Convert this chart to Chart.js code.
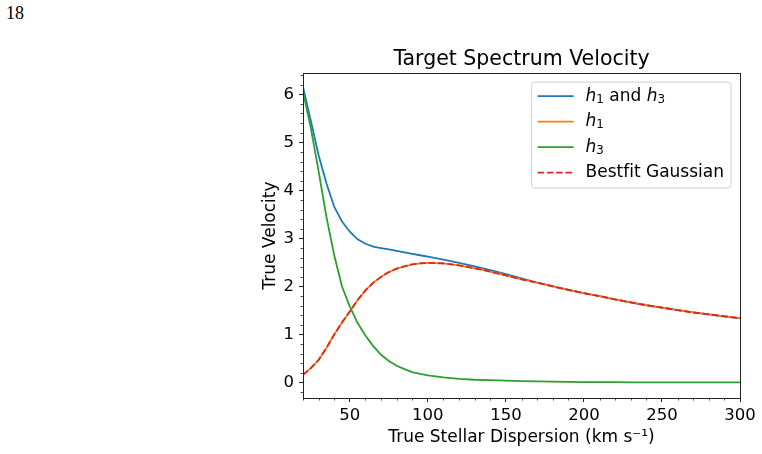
<!DOCTYPE html>
<html>
<head>
<meta charset="utf-8">
<script src="https://cdn.jsdelivr.net/npm/chart.js@4.4.0/dist/chart.umd.min.js"></script>
<style>
  html, body { margin: 0; padding: 0; background: #fff; }
  #wrap { position: relative; width: 762px; height: 454px; }
  #page { position: absolute; left: 6px; top: 3px; font-family: "Liberation Serif", serif; font-size: 18px; color: #000; }
  canvas { position: absolute; left: 0; top: 0; }
</style>
</head>
<body>
<div id="wrap">
  <div id="page">18</div>
  <canvas id="myChart" width="762" height="454"></canvas>
</div>
<script>
// data
const sigma = [20, 25, 30, 35, 40, 45, 50, 55, 60, 65, 70, 75, 80, 85, 90, 95, 100,
  110, 120, 130, 140, 150, 160, 170, 180, 190, 200, 210, 220, 230, 240, 250, 260, 270, 280, 290, 300];
const h1h3 = [6.15, 5.45, 4.73, 4.15, 3.66, 3.35, 3.14, 2.98, 2.89, 2.83, 2.8, 2.77, 2.74, 2.71, 2.68, 2.65, 2.62,
  2.56, 2.49, 2.42, 2.34, 2.26, 2.17, 2.08, 2.01, 1.93, 1.86, 1.8, 1.73, 1.67, 1.61, 1.56, 1.51, 1.46, 1.42, 1.38, 1.34];
const h1 = [0.16, 0.3, 0.47, 0.72, 1.0, 1.25, 1.48, 1.72, 1.92, 2.08, 2.2, 2.3, 2.37, 2.42, 2.46, 2.48, 2.49,
  2.48, 2.44, 2.38, 2.31, 2.23, 2.15, 2.08, 2.0, 1.93, 1.86, 1.8, 1.73, 1.67, 1.61, 1.56, 1.51, 1.46, 1.42, 1.38, 1.34];
const h3 = [6.05, 5.3, 4.4, 3.45, 2.65, 2.0, 1.58, 1.24, 0.98, 0.76, 0.58, 0.45, 0.35, 0.28, 0.22, 0.18, 0.15,
  0.11, 0.08, 0.06, 0.05, 0.04, 0.03, 0.025, 0.02, 0.015, 0.01, 0.01, 0.01, 0.005, 0.005, 0.005, 0.005, 0.005, 0.005, 0.005, 0.005];
const gaussFit = [0.16, 0.3, 0.47, 0.72, 1.0, 1.25, 1.48, 1.72, 1.92, 2.08, 2.2, 2.3, 2.37, 2.42, 2.46, 2.48, 2.49,
  2.48, 2.44, 2.38, 2.31, 2.23, 2.15, 2.08, 2.0, 1.93, 1.86, 1.8, 1.73, 1.67, 1.61, 1.56, 1.51, 1.46, 1.42, 1.38, 1.34];
const xTicks = [50, 100, 150, 200, 250, 300];
const yTicks = [0, 1, 2, 3, 4, 5, 6];

const FONT = "DejaVu Sans";
const LEG_SIZE = 17;
Chart.defaults.font.family = FONT;
Chart.defaults.color = "#000";

const pts = (ys) => sigma.map((x, i) => ({ x: x, y: ys[i] }));

// legend text: italic h, small lowered subscripts
const SUBS = { "₀": "0", "₁": "1", "₂": "2", "₃": "3" };
function richRun(ctx, text, x, y, draw) {
  let cx = x;
  for (const ch of text) {
    let t = ch, font = LEG_SIZE + "px " + FONT, dy = 0;
    if (ch === "ℎ") { t = "h"; font = "oblique " + LEG_SIZE + "px " + FONT; }
    else if (SUBS[ch]) { t = SUBS[ch]; font = (LEG_SIZE * 0.7) + "px " + FONT; dy = 3.5; }
    ctx.font = font;
    if (draw) ctx.fillText(t, cx, y + dy);
    cx += ctx.measureText(t).width;
  }
  return cx - x;
}

// frame, minor ticks and the boxed legend
const extras = {
  id: "extras",
  afterLayout(chart) {
    // centre the title over the plot area, like the original
    const t = chart.titleBlock;
    if (t) { t.left = chart.chartArea.left; t.right = chart.chartArea.right; }
  },
  afterDraw(chart) {
    const { ctx, chartArea: a, scales } = chart;
    ctx.save();
    ctx.strokeStyle = "#222";
    ctx.lineWidth = 0.8;
    ctx.beginPath();
    for (let v = 20; v <= 300; v += 10) {
      if (v % 50 === 0) continue;
      const px = Math.round(scales.x.getPixelForValue(v)) + 0.5;
      ctx.moveTo(px, a.bottom);
      ctx.lineTo(px, a.bottom + 2.5);
    }
    for (let k = -1; k <= 32; k++) {
      if (k % 5 === 0) continue;
      const py = Math.round(scales.y.getPixelForValue(k * 0.2)) + 0.5;
      ctx.moveTo(a.left, py);
      ctx.lineTo(a.left - 2.5, py);
    }
    ctx.stroke();
    ctx.lineWidth = 1;
    ctx.strokeRect(Math.round(a.left) + 0.5, Math.round(a.top) + 0.5,
      Math.round(a.right - a.left), Math.round(a.bottom - a.top));
    ctx.restore();
  },
  afterDatasetsDraw(chart) {
    const { ctx, chartArea: a } = chart;
    const sets = chart.data.datasets;
    ctx.save();
    let textW = 0;
    sets.forEach((ds) => { textW = Math.max(textW, richRun(ctx, ds.label, 0, 0, false)); });
    const rowH = 25.5;
    const w = 6 + 36 + 12 + textW + 7;
    const h = 14 + (sets.length - 1) * rowH + 15.5;
    const x = a.right - 9 - w;
    const y = a.top + 9;
    ctx.beginPath();
    ctx.roundRect(x, y, w, h, 3);
    ctx.fillStyle = "rgba(255,255,255,0.8)";
    ctx.fill();
    ctx.strokeStyle = "#d0d0d0";
    ctx.lineWidth = 1;
    ctx.stroke();
    sets.forEach((ds, i) => {
      const cy = y + 14 + i * rowH;
      ctx.beginPath();
      ctx.setLineDash(ds.borderDash || []);
      ctx.strokeStyle = ds.borderColor;
      ctx.lineWidth = ds.borderWidth;
      ctx.moveTo(x + 6, cy);
      ctx.lineTo(x + 42, cy);
      ctx.stroke();
      ctx.setLineDash([]);
      ctx.fillStyle = "#000";
      ctx.textBaseline = "middle";
      richRun(ctx, ds.label, x + 54, cy, true);
    });
    ctx.restore();
  },
};

const ctx = document.getElementById("myChart").getContext("2d");
const myChart = new Chart(ctx, {
  type: "line",
  data: {
    datasets: [
      { label: "ℎ₁ and ℎ₃", data: pts(h1h3), borderColor: "#1f77b4", borderWidth: 1.8, order: 4 },
      { label: "ℎ₁", data: pts(h1), borderColor: "#ff7f0e", borderWidth: 1.8, order: 3 },
      { label: "ℎ₃", data: pts(h3), borderColor: "#2ca02c", borderWidth: 1.8, order: 2 },
      { label: "Bestfit Gaussian", data: pts(gaussFit), borderColor: "#d62728", borderWidth: 1.8, borderDash: [6.5, 2.8], order: 1 },
    ],
  },
  options: {
    responsive: false,
    animation: false,
    layout: { padding: { left: 250, right: 22, top: 47, bottom: 4 } },
    elements: { point: { radius: 0 }, line: { tension: 0, fill: false } },
    scales: {
      x: {
        type: "linear",
        min: 20,
        max: 300,
        afterBuildTicks: (s) => { s.ticks = xTicks.map((v) => ({ value: v })); },
        afterFit: (s) => { s.height = 52; },
        grid: { drawOnChartArea: false, tickLength: 4, tickColor: "#222" },
        border: { display: false },
        ticks: { font: { size: 16.5 }, padding: 4, maxRotation: 0 },
        title: { display: true, text: "True Stellar Dispersion (km s⁻¹)", font: { size: 17 }, padding: { bottom: 2 } },
      },
      y: {
        type: "linear",
        min: -0.32,
        max: 6.44,
        afterBuildTicks: (s) => { s.ticks = yTicks.map((v) => ({ value: v })); },
        afterFit: (s) => { s.width = 53; },
        grid: { drawOnChartArea: false, tickLength: 4, tickColor: "#222" },
        border: { display: false },
        ticks: { font: { size: 16.5 }, padding: 5 },
        title: { display: true, text: "True Velocity", font: { size: 17 }, padding: { top: 10 } },
      },
    },
    plugins: {
      legend: { display: false },
      tooltip: { enabled: false },
      title: {
        display: true,
        text: "Target Spectrum Velocity",
        font: { size: 20.5, weight: "normal" },
        color: "#000",
        padding: { top: 0, bottom: 1.5 },
      },
    },
  },
  plugins: [extras],
});
</script>
</body>
</html>
